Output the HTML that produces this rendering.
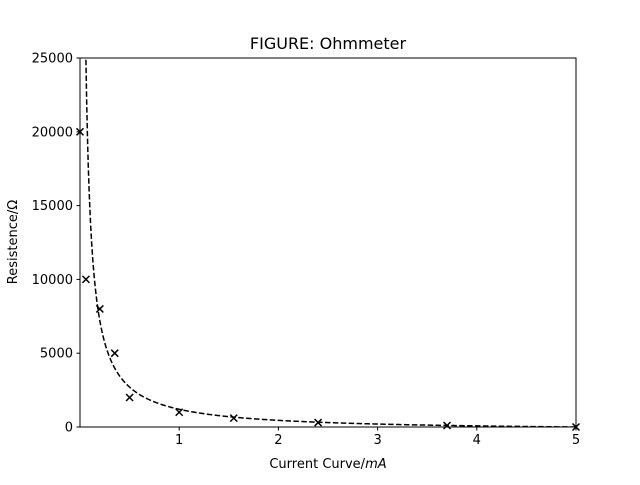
<!DOCTYPE html>
<html><head><meta charset="utf-8"><style>
body{margin:0;background:#fff}
svg{font-family:"DejaVu Sans","Liberation Sans",sans-serif}
</style></head><body>
<svg id="chart" width="640" height="480" viewBox="0 0 640 480">
<rect width="640" height="480" fill="#fff"/>
<text x="328" y="49" font-size="16" text-anchor="middle">FIGURE: Ohmmeter</text>
<text x="328" y="468" font-size="13" text-anchor="middle">Current Curve/<tspan font-style="italic">mA</tspan></text>
<text x="0" y="0" font-size="13" text-anchor="middle" transform="translate(17,242) rotate(-90)">Resistence/Ω</text>
<g id="plot"></g>
</svg>
<script>
const pointX = [0, 0.06, 0.2, 0.35, 0.5, 1, 1.55, 2.4, 3.7, 5];
const pointY = [20000, 10000, 8000, 5000, 2000, 1000, 600, 300, 100, 0];
const fitParams = [1500, 300]; // R = a/I - b
const xTicks = [1, 2, 3, 4, 5];
const yTicks = [0, 5000, 10000, 15000, 20000, 25000];

const L=80,R=576,T=58,B=427,X0=0,X1=5,Y0=0,Y1=25000;
const sx=v=>L+(v-X0)/(X1-X0)*(R-L);
const sy=v=>B-(v-Y0)/(Y1-Y0)*(B-T);
const NS='http://www.w3.org/2000/svg';
const g=document.getElementById('plot');
function mk(t,a){const e=document.createElementNS(NS,t);for(const k in a)e.setAttribute(k,a[k]);g.appendChild(e);return e;}

const defs=mk('defs',{});
const cp=document.createElementNS(NS,'clipPath');cp.setAttribute('id','clip');
const cr=document.createElementNS(NS,'rect');cr.setAttribute('x',L);cr.setAttribute('y',T);cr.setAttribute('width',R-L);cr.setAttribute('height',B-T);
cp.appendChild(cr);defs.appendChild(cp);

let d='';
for(let i=0;i<=600;i++){
  const x=0.05+i*(5-0.05)/600;
  const y=fitParams[0]/x-fitParams[1];
  d+=(i?'L':'M')+sx(x).toFixed(2)+','+sy(y).toFixed(2);
}
const c=mk('path',{d:d,fill:'none',stroke:'#000','stroke-width':1.5,'stroke-dasharray':'5.5,2.4','clip-path':'url(#clip)'});



pointX.forEach((x,i)=>{
  const px=sx(x),py=sy(pointY[i]),s=3.5;
  const m=mk('path',{d:`M${px-s},${py-s}L${px+s},${py+s}M${px-s},${py+s}L${px+s},${py-s}`,stroke:'#000','stroke-width':1.5});
  
  
});

const fr=mk('rect',{x:L,y:T,width:R-L,height:B-T,fill:'none',stroke:'#000','stroke-width':1});



xTicks.forEach(v=>{
  const x=sx(v);
  const t=mk('line',{x1:x,x2:x,y1:B,y2:B+3.5,stroke:'#000'});
  
  
  const l=mk('text',{x:x,y:B+17,'font-size':13,'text-anchor':'middle'});l.textContent=v;
  
  
});
yTicks.forEach(v=>{
  const y=sy(v);
  const t=mk('line',{x1:L-3.5,x2:L,y1:y,y2:y,stroke:'#000'});
  
  
  const l=mk('text',{x:L-7,y:y+4.5,'font-size':13,'text-anchor':'end'});l.textContent=v;
  
  
});
</script>
</body></html>
